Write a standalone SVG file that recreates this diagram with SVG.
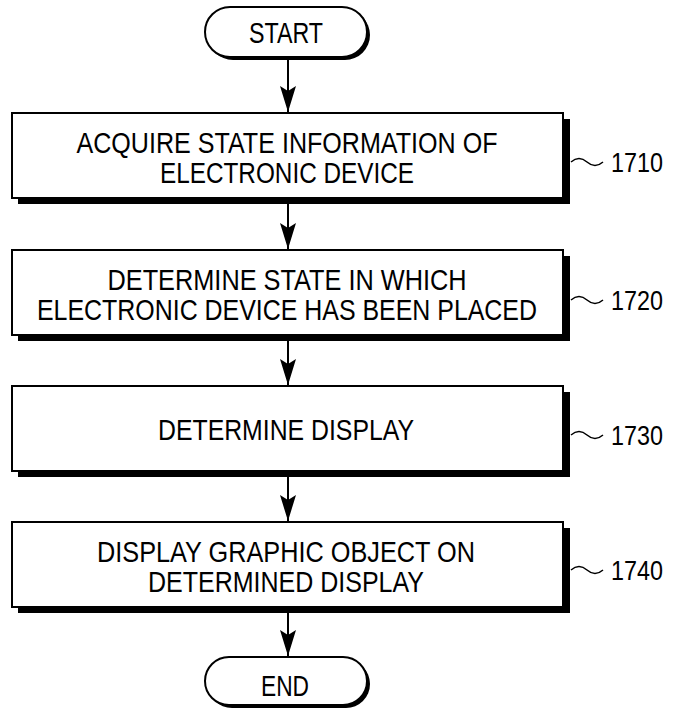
<svg xmlns="http://www.w3.org/2000/svg" width="673" height="719" viewBox="0 0 673 719">
<style>
text{font-family:"Liberation Sans",Arial,sans-serif;fill:#000;}
.t{font-size:30px;text-anchor:middle;}
.lbl{font-size:27px;}
.box{fill:#fff;stroke:#000;stroke-width:2;}
.sh{fill:#000;}
.term{fill:#fff;stroke:#000;stroke-width:2;}
.conn{stroke:#000;stroke-width:2;fill:none;}
.tilde{stroke:#000;stroke-width:1.5;fill:none;}
</style>
<defs>
<marker id="ah" markerUnits="userSpaceOnUse" markerWidth="26" markerHeight="16" refX="26" refY="8" orient="auto" viewBox="0 0 26 16">
<path d="M0,0 L5,8 L0,16 L26,8 Z" fill="#000"/>
</marker>
</defs>
<g id="connectors">
<line class="conn" x1="288" y1="58" x2="288" y2="112" marker-end="url(#ah)"/>
<line class="conn" x1="288" y1="204" x2="288" y2="249" marker-end="url(#ah)"/>
<line class="conn" x1="288" y1="341" x2="288" y2="385" marker-end="url(#ah)"/>
<line class="conn" x1="288" y1="477" x2="288" y2="521" marker-end="url(#ah)"/>
<line class="conn" x1="288" y1="613" x2="288" y2="656" marker-end="url(#ah)"/>
</g>
<g id="start">
<rect class="sh" x="208" y="10" width="162" height="50" rx="25"/>
<rect class="term" x="205" y="7" width="162" height="50" rx="25"/>
<text class="t" x="286" y="43" font-size="28" textLength="74" lengthAdjust="spacingAndGlyphs">START</text>
</g>
<g id="n1710">
<rect class="sh" x="18" y="119" width="552" height="85"/>
<rect class="box" x="12" y="113" width="551" height="85"/>
<text class="t" x="287" y="153" textLength="421" lengthAdjust="spacingAndGlyphs">ACQUIRE STATE INFORMATION OF</text>
<text class="t" x="287" y="183" textLength="254" lengthAdjust="spacingAndGlyphs">ELECTRONIC DEVICE</text>
<path class="tilde" d="M571,162 q8,-7 16,0 t16,0"/>
<text class="lbl" x="611" y="172" textLength="52" lengthAdjust="spacingAndGlyphs">1710</text>
</g>
<g id="n1720">
<rect class="sh" x="18" y="256" width="552" height="85"/>
<rect class="box" x="12" y="250" width="551" height="85"/>
<text class="t" x="287" y="290" textLength="359" lengthAdjust="spacingAndGlyphs">DETERMINE STATE IN WHICH</text>
<text class="t" x="287" y="320" textLength="500" lengthAdjust="spacingAndGlyphs">ELECTRONIC DEVICE HAS BEEN PLACED</text>
<path class="tilde" d="M571,300 q8,-7 16,0 t16,0"/>
<text class="lbl" x="611" y="310" textLength="52" lengthAdjust="spacingAndGlyphs">1720</text>
</g>
<g id="n1730">
<rect class="sh" x="18" y="392" width="552" height="85"/>
<rect class="box" x="12" y="386" width="551" height="85"/>
<text class="t" x="286" y="440" textLength="256" lengthAdjust="spacingAndGlyphs">DETERMINE DISPLAY</text>
<path class="tilde" d="M571,435 q8,-7 16,0 t16,0"/>
<text class="lbl" x="611" y="445" textLength="52" lengthAdjust="spacingAndGlyphs">1730</text>
</g>
<g id="n1740">
<rect class="sh" x="18" y="528" width="552" height="85"/>
<rect class="box" x="12" y="522" width="551" height="85"/>
<text class="t" x="286" y="562" textLength="378" lengthAdjust="spacingAndGlyphs">DISPLAY GRAPHIC OBJECT ON</text>
<text class="t" x="286" y="592" textLength="276" lengthAdjust="spacingAndGlyphs">DETERMINED DISPLAY</text>
<path class="tilde" d="M571,570 q8,-7 16,0 t16,0"/>
<text class="lbl" x="611" y="580" textLength="52" lengthAdjust="spacingAndGlyphs">1740</text>
</g>
<g id="end">
<rect class="sh" x="208" y="660" width="162" height="48" rx="24"/>
<rect class="term" x="205" y="657" width="162" height="48" rx="24"/>
<text class="t" x="285" y="696" font-size="28" textLength="48" lengthAdjust="spacingAndGlyphs">END</text>
</g>
</svg>
